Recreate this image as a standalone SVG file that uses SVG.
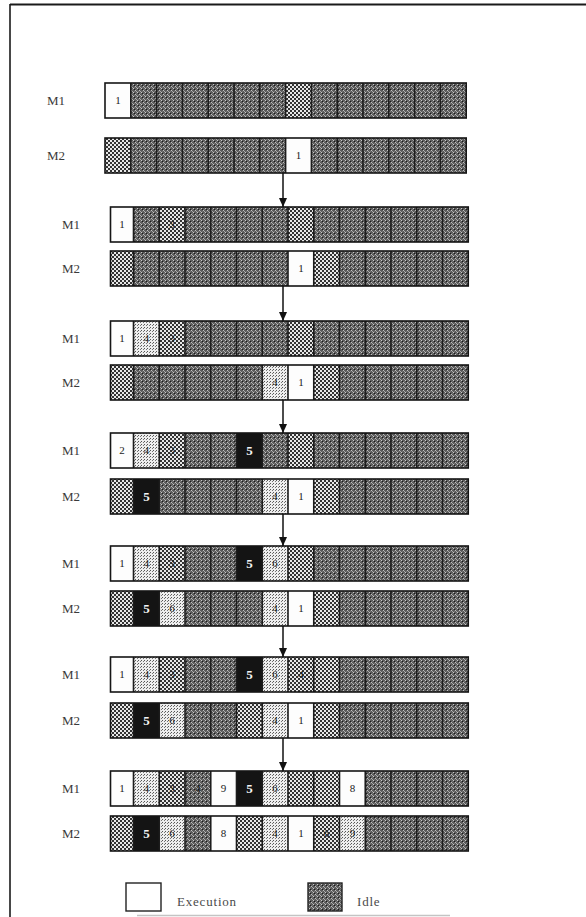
<svg xmlns="http://www.w3.org/2000/svg" width="586" height="917" viewBox="0 0 586 917">
<style>
.idle{fill:url(#pIdle)}
.chk{fill:url(#pChk)}
.lt{fill:url(#pLt)}
.wh{fill:#fdfdfd}
.bk{fill:#141414}
.frame{fill:none;stroke:#151515;stroke-width:1.6}
.sep{fill:none;stroke:#1c1c1c;stroke-width:1.6}
.lbl{font-family:"Liberation Serif","Times New Roman",serif;font-size:13px;fill:#3a3a3a}
.d{font-family:"Liberation Serif","Times New Roman",serif;font-size:11px;fill:#1a1a1a;text-anchor:middle}
.dw{font-family:"Liberation Serif","Times New Roman",serif;font-size:13px;font-weight:bold;fill:#f4f4f4;text-anchor:middle}
.leg{font-family:"Liberation Serif","Times New Roman",serif;font-size:13px;fill:#4a4a4a;letter-spacing:0.8px}
.conn{stroke:#111;stroke-width:1.5;fill:none}
</style>
<defs>
<pattern id="pIdle" width="4" height="4" patternUnits="userSpaceOnUse">
<rect width="4" height="4" fill="#5a5a5a"/>
<rect x="1" y="0" width="1" height="1" fill="#c8c8c8"/>
<rect x="3" y="2" width="1" height="1" fill="#c0c0c0"/>
<rect x="0" y="3" width="1" height="1" fill="#a8a8a8"/>
<rect x="2" y="1" width="1" height="1" fill="#1a1a1a"/>
<rect x="0" y="1" width="1" height="1" fill="#7a7a7a"/>
<rect x="2" y="3" width="1" height="1" fill="#7a7a7a"/>
</pattern>
<pattern id="pChk" width="4" height="4" patternUnits="userSpaceOnUse">
<rect width="4" height="4" fill="#e8e8e8"/>
<rect width="2" height="2" fill="#333"/>
<rect x="2" y="2" width="2" height="2" fill="#333"/>
</pattern>
<pattern id="pLt" width="3" height="3" patternUnits="userSpaceOnUse">
<rect width="3" height="3" fill="#eeeeee"/>
<rect width="1" height="1" fill="#555"/>
<rect x="2" y="1" width="1" height="1" fill="#777"/>
</pattern>
<path id="sep1" class="sep" d="M130.8 0v35M156.6 0v35M182.4 0v35M208.2 0v35M234 0v35M259.8 0v35M285.6 0v35M311.4 0v35M337.2 0v35M363 0v35M388.8 0v35M414.6 0v35M440.4 0v35"/>
<path id="sep2" class="sep" d="M133.5 0v35M159.25 0v35M185 0v35M210.75 0v35M236.5 0v35M262.25 0v35M288 0v35M313.75 0v35M339.5 0v35M365.25 0v35M391 0v35M416.75 0v35M442.5 0v35"/>
<marker id="ah" markerWidth="9" markerHeight="8" refX="9" refY="4" orient="auto" markerUnits="userSpaceOnUse" viewBox="0 0 9 8">
<path d="M0 0L9 4L0 8Z" fill="#111"/>
</marker>
</defs>
<rect width="586" height="917" fill="#fff"/>
<g id="border">
<path d="M10 4.5H586" stroke="#1a1a1a" stroke-width="2" fill="none"/>
<path d="M10 4V917" stroke="#1a1a1a" stroke-width="1.6" fill="none"/>
<path d="M137 915.5H450" stroke="#c4c4c4" stroke-width="1.5" fill="none"/>
</g>

<g id="labels">
<text class="lbl" x="47" y="105">M1</text>
<text class="lbl" x="47" y="160">M2</text>
<text class="lbl" x="62" y="229">M1</text>
<text class="lbl" x="62" y="273">M2</text>
<text class="lbl" x="62" y="343">M1</text>
<text class="lbl" x="62" y="387">M2</text>
<text class="lbl" x="62" y="455">M1</text>
<text class="lbl" x="62" y="501">M2</text>
<text class="lbl" x="62" y="568">M1</text>
<text class="lbl" x="62" y="613">M2</text>
<text class="lbl" x="62" y="679">M1</text>
<text class="lbl" x="62" y="725">M2</text>
<text class="lbl" x="62" y="793">M1</text>
<text class="lbl" x="62" y="838">M2</text>
</g>

<g id="r1-m1">
<rect class="idle" x="105" y="83" width="361.2" height="35"/>
<rect class="wh" x="105" y="83" width="25.8" height="35"/>
<rect class="chk" x="285.6" y="83" width="25.8" height="35"/>
<use href="#sep1" y="83"/>
<rect class="frame" x="105" y="83" width="361.2" height="35"/>
<text class="d" x="118" y="104">1</text>
</g>
<g id="r1-m2">
<rect class="idle" x="105" y="138" width="361.2" height="35"/>
<rect class="chk" x="105" y="138" width="25.8" height="35"/>
<rect class="wh" x="285.6" y="138" width="25.8" height="35"/>
<use href="#sep1" y="138"/>
<rect class="frame" x="105" y="138" width="361.2" height="35"/>
<text class="d" x="298.5" y="159">1</text>
</g>

<g id="r2-m1">
<rect class="idle" x="110.5" y="207" width="357.75" height="35"/>
<rect class="wh" x="110.5" y="207" width="23" height="35"/>
<rect class="chk" x="159.25" y="207" width="25.75" height="35"/>
<rect class="chk" x="288" y="207" width="25.75" height="35"/>
<use href="#sep2" y="207"/>
<rect class="frame" x="110.5" y="207" width="357.75" height="35"/>
<text class="d" x="122" y="228">1</text>
<text class="d" x="172.1" y="228">3</text>
</g>
<g id="r2-m2">
<rect class="idle" x="110.5" y="251" width="357.75" height="35"/>
<rect class="chk" x="110.5" y="251" width="23" height="35"/>
<rect class="wh" x="288" y="251" width="25.75" height="35"/>
<rect class="chk" x="313.75" y="251" width="25.75" height="35"/>
<use href="#sep2" y="251"/>
<rect class="frame" x="110.5" y="251" width="357.75" height="35"/>
<text class="d" x="300.9" y="272">1</text>
</g>

<g id="r3-m1">
<rect class="idle" x="110.5" y="321" width="357.75" height="35"/>
<rect class="wh" x="110.5" y="321" width="23" height="35"/>
<rect class="lt" x="133.5" y="321" width="25.75" height="35"/>
<rect class="chk" x="159.25" y="321" width="25.75" height="35"/>
<rect class="chk" x="288" y="321" width="25.75" height="35"/>
<use href="#sep2" y="321"/>
<rect class="frame" x="110.5" y="321" width="357.75" height="35"/>
<text class="d" x="122" y="342">1</text>
<text class="d" x="146.4" y="342">4</text>
<text class="d" x="172.1" y="342">3</text>
</g>
<g id="r3-m2">
<rect class="idle" x="110.5" y="365" width="357.75" height="35"/>
<rect class="chk" x="110.5" y="365" width="23" height="35"/>
<rect class="lt" x="262.25" y="365" width="25.75" height="35"/>
<rect class="wh" x="288" y="365" width="25.75" height="35"/>
<rect class="chk" x="313.75" y="365" width="25.75" height="35"/>
<use href="#sep2" y="365"/>
<rect class="frame" x="110.5" y="365" width="357.75" height="35"/>
<text class="d" x="275.1" y="386">4</text>
<text class="d" x="300.9" y="386">1</text>
</g>

<g id="r4-m1">
<rect class="idle" x="110.5" y="433" width="357.75" height="35"/>
<rect class="wh" x="110.5" y="433" width="23" height="35"/>
<rect class="lt" x="133.5" y="433" width="25.75" height="35"/>
<rect class="chk" x="159.25" y="433" width="25.75" height="35"/>
<rect class="bk" x="236.5" y="433" width="25.75" height="35"/>
<rect class="chk" x="288" y="433" width="25.75" height="35"/>
<use href="#sep2" y="433"/>
<rect class="frame" x="110.5" y="433" width="357.75" height="35"/>
<text class="d" x="122" y="454">2</text>
<text class="d" x="146.4" y="454">4</text>
<text class="d" x="172.1" y="454">3</text>
<text class="dw" x="249.4" y="455">5</text>
</g>
<g id="r4-m2">
<rect class="idle" x="110.5" y="479" width="357.75" height="35"/>
<rect class="chk" x="110.5" y="479" width="23" height="35"/>
<rect class="bk" x="133.5" y="479" width="25.75" height="35"/>
<rect class="lt" x="262.25" y="479" width="25.75" height="35"/>
<rect class="wh" x="288" y="479" width="25.75" height="35"/>
<rect class="chk" x="313.75" y="479" width="25.75" height="35"/>
<use href="#sep2" y="479"/>
<rect class="frame" x="110.5" y="479" width="357.75" height="35"/>
<text class="dw" x="146.4" y="501">5</text>
<text class="d" x="275.1" y="500">4</text>
<text class="d" x="300.9" y="500">1</text>
</g>

<g id="r5-m1">
<rect class="idle" x="110.5" y="546" width="357.75" height="35"/>
<rect class="wh" x="110.5" y="546" width="23" height="35"/>
<rect class="lt" x="133.5" y="546" width="25.75" height="35"/>
<rect class="chk" x="159.25" y="546" width="25.75" height="35"/>
<rect class="bk" x="236.5" y="546" width="25.75" height="35"/>
<rect class="lt" x="262.25" y="546" width="25.75" height="35"/>
<rect class="chk" x="288" y="546" width="25.75" height="35"/>
<use href="#sep2" y="546"/>
<rect class="frame" x="110.5" y="546" width="357.75" height="35"/>
<text class="d" x="122" y="567">1</text>
<text class="d" x="146.4" y="567">4</text>
<text class="d" x="172.1" y="567">3</text>
<text class="dw" x="249.4" y="568">5</text>
<text class="d" x="275.1" y="567">6</text>
</g>
<g id="r5-m2">
<rect class="idle" x="110.5" y="591" width="357.75" height="35"/>
<rect class="chk" x="110.5" y="591" width="23" height="35"/>
<rect class="bk" x="133.5" y="591" width="25.75" height="35"/>
<rect class="lt" x="159.25" y="591" width="25.75" height="35"/>
<rect class="lt" x="262.25" y="591" width="25.75" height="35"/>
<rect class="wh" x="288" y="591" width="25.75" height="35"/>
<rect class="chk" x="313.75" y="591" width="25.75" height="35"/>
<use href="#sep2" y="591"/>
<rect class="frame" x="110.5" y="591" width="357.75" height="35"/>
<text class="dw" x="146.4" y="613">5</text>
<text class="d" x="172.1" y="612">6</text>
<text class="d" x="275.1" y="612">4</text>
<text class="d" x="300.9" y="612">1</text>
</g>

<g id="r6-m1">
<rect class="idle" x="110.5" y="657" width="357.75" height="35"/>
<rect class="wh" x="110.5" y="657" width="23" height="35"/>
<rect class="lt" x="133.5" y="657" width="25.75" height="35"/>
<rect class="chk" x="159.25" y="657" width="25.75" height="35"/>
<rect class="bk" x="236.5" y="657" width="25.75" height="35"/>
<rect class="lt" x="262.25" y="657" width="25.75" height="35"/>
<rect class="chk" x="288" y="657" width="25.75" height="35"/>
<rect class="chk" x="313.75" y="657" width="25.75" height="35"/>
<use href="#sep2" y="657"/>
<rect class="frame" x="110.5" y="657" width="357.75" height="35"/>
<text class="d" x="122" y="678">1</text>
<text class="d" x="146.4" y="678">4</text>
<text class="d" x="172.1" y="678">3</text>
<text class="dw" x="249.4" y="679">5</text>
<text class="d" x="275.1" y="678">6</text>
<text class="d" x="300.9" y="678">4</text>
</g>
<g id="r6-m2">
<rect class="idle" x="110.5" y="703" width="357.75" height="35"/>
<rect class="chk" x="110.5" y="703" width="23" height="35"/>
<rect class="bk" x="133.5" y="703" width="25.75" height="35"/>
<rect class="lt" x="159.25" y="703" width="25.75" height="35"/>
<rect class="chk" x="236.5" y="703" width="25.75" height="35"/>
<rect class="lt" x="262.25" y="703" width="25.75" height="35"/>
<rect class="wh" x="288" y="703" width="25.75" height="35"/>
<rect class="chk" x="313.75" y="703" width="25.75" height="35"/>
<use href="#sep2" y="703"/>
<rect class="frame" x="110.5" y="703" width="357.75" height="35"/>
<text class="dw" x="146.4" y="725">5</text>
<text class="d" x="172.1" y="724">6</text>
<text class="d" x="275.1" y="724">4</text>
<text class="d" x="300.9" y="724">1</text>
</g>

<g id="r7-m1">
<rect class="idle" x="110.5" y="771" width="357.75" height="35"/>
<rect class="wh" x="110.5" y="771" width="23" height="35"/>
<rect class="lt" x="133.5" y="771" width="25.75" height="35"/>
<rect class="chk" x="159.25" y="771" width="25.75" height="35"/>
<rect class="wh" x="210.75" y="771" width="25.75" height="35"/>
<rect class="bk" x="236.5" y="771" width="25.75" height="35"/>
<rect class="lt" x="262.25" y="771" width="25.75" height="35"/>
<rect class="chk" x="288" y="771" width="25.75" height="35"/>
<rect class="chk" x="313.75" y="771" width="25.75" height="35"/>
<rect class="wh" x="339.5" y="771" width="25.75" height="35"/>
<use href="#sep2" y="771"/>
<rect class="frame" x="110.5" y="771" width="357.75" height="35"/>
<text class="d" x="122" y="792">1</text>
<text class="d" x="146.4" y="792">4</text>
<text class="d" x="172.1" y="792">3</text>
<text class="d" x="197.9" y="792">4</text>
<text class="d" x="223.6" y="792">9</text>
<text class="dw" x="249.4" y="793">5</text>
<text class="d" x="275.1" y="792">6</text>
<text class="d" x="352.4" y="792">8</text>
</g>
<g id="r7-m2">
<rect class="idle" x="110.5" y="816" width="357.75" height="35"/>
<rect class="chk" x="110.5" y="816" width="23" height="35"/>
<rect class="bk" x="133.5" y="816" width="25.75" height="35"/>
<rect class="lt" x="159.25" y="816" width="25.75" height="35"/>
<rect class="wh" x="210.75" y="816" width="25.75" height="35"/>
<rect class="chk" x="236.5" y="816" width="25.75" height="35"/>
<rect class="lt" x="262.25" y="816" width="25.75" height="35"/>
<rect class="wh" x="288" y="816" width="25.75" height="35"/>
<rect class="chk" x="313.75" y="816" width="25.75" height="35"/>
<rect class="lt" x="339.5" y="816" width="25.75" height="35"/>
<use href="#sep2" y="816"/>
<rect class="frame" x="110.5" y="816" width="357.75" height="35"/>
<text class="dw" x="146.4" y="838">5</text>
<text class="d" x="172.1" y="837">6</text>
<text class="d" x="223.6" y="837">8</text>
<text class="d" x="275.1" y="837">4</text>
<text class="d" x="300.9" y="837">1</text>
<text class="d" x="326.6" y="837">6</text>
<text class="d" x="352.4" y="837">9</text>
</g>

<g id="connectors">
<path class="conn" d="M283 173V207" marker-end="url(#ah)"/>
<path class="conn" d="M283 286V321" marker-end="url(#ah)"/>
<path class="conn" d="M283 400V433" marker-end="url(#ah)"/>
<path class="conn" d="M283 514V546" marker-end="url(#ah)"/>
<path class="conn" d="M283 626V657" marker-end="url(#ah)"/>
<path class="conn" d="M283 738V771" marker-end="url(#ah)"/>
</g>

<g id="legend-exec">
<rect x="126" y="883" width="35" height="28" fill="#fff" stroke="#222" stroke-width="1.4"/>
<text class="leg" x="177" y="906">Execution</text>
</g>
<g id="legend-idle">
<rect class="idle" x="308" y="883" width="34" height="28" stroke="#222" stroke-width="1.4"/>
<text class="leg" x="357" y="906">Idle</text>
</g>
</svg>
